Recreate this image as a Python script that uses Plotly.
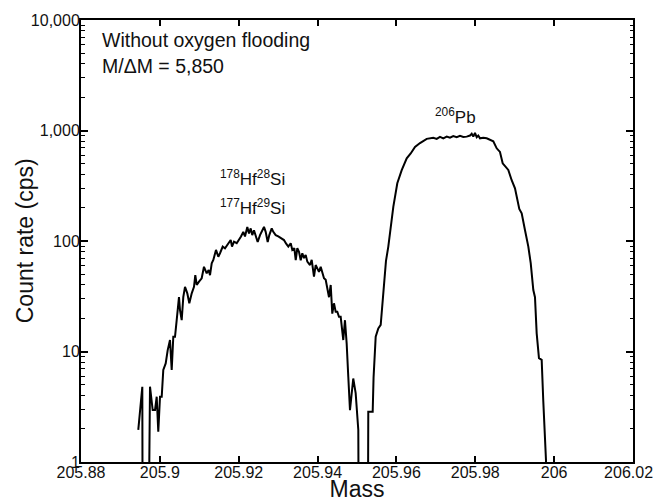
import plotly.graph_objects as go

# Mass scan (mass in u, count rate in cps; 0 = no counts recorded)
mass = [
    205.89453, 205.89555, 205.89572, 205.89681, 205.89750, 205.89818, 205.89877, 205.89920,
    205.89960, 205.90004, 205.90047, 205.90087, 205.90148, 205.90199, 205.90257, 205.90300,
    205.90341, 205.90384, 205.90427, 205.90485, 205.90511, 205.90554, 205.90594, 205.90638,
    205.90696, 205.90747, 205.90808, 205.90866, 205.90899, 205.90935, 205.90993, 205.91061,
    205.91119, 205.91188, 205.91239, 205.91272, 205.91315, 205.91356, 205.91424, 205.91483,
    205.91525, 205.91594, 205.91652, 205.91710, 205.91761, 205.91797, 205.91830, 205.91880,
    205.91949, 205.92007, 205.92058, 205.92116, 205.92159, 205.92218, 205.92261, 205.92304,
    205.92344, 205.92387, 205.92438, 205.92481, 205.92540, 205.92598, 205.92641, 205.92684,
    205.92735, 205.92776, 205.92837, 205.92877, 205.92938, 205.93004, 205.93090, 205.93148,
    205.93199, 205.93258, 205.93319, 205.93359, 205.93410, 205.93446, 205.93486, 205.93529,
    205.93572, 205.93613, 205.93656, 205.93699, 205.93740, 205.93808, 205.93851, 205.93909,
    205.93952, 205.93993, 205.94036, 205.94079, 205.94120, 205.94163, 205.94206, 205.94247,
    205.94290, 205.94333, 205.94373, 205.94416, 205.94459, 205.94500, 205.94543, 205.94586,
    205.94627, 205.94652, 205.94695, 205.94738, 205.94779, 205.94822, 205.94905, 205.94966,
    205.95033, 205.95058, 205.95266, 205.95286, 205.95398, 205.95420, 205.95474, 205.95540,
    205.95601, 205.95667, 205.95735, 205.95794, 205.95855, 205.95921, 205.96022, 205.96134,
    205.96261, 205.96362, 205.96471, 205.96598, 205.96768, 205.96935, 205.97021, 205.97105,
    205.97189, 205.97275, 205.97358, 205.97442, 205.97529, 205.97612, 205.97696, 205.97782,
    205.97866, 205.97909, 205.97950, 205.97992, 205.98036, 205.98076, 205.98119, 205.98203,
    205.98289, 205.98373, 205.98457, 205.98543, 205.98626, 205.98695, 205.98753, 205.98837,
    205.98923, 205.99007, 205.99116, 205.99177, 205.99261, 205.99345, 205.99406, 205.99472,
    205.99514, 205.99557, 205.99615, 205.99684, 205.99724, 205.99793, 205.99818,
]
count_rate = [
    1.95, 4.8, 0, 0, 4.8, 2.95, 2.95, 3.9,
    1.88, 3.9, 3.9, 6.8, 7.8, 10.3, 12.7, 6.8,
    13.6, 13.6, 19.2, 31, 23.7, 19.2, 31, 38.5,
    33.6, 27.3, 33.6, 38.5, 49, 40, 42.9, 46,
    58.4, 51, 54.6, 49, 62.9, 67.4, 83, 72,
    77.5, 89, 86, 92, 95.5, 102, 89, 98.5,
    95.5, 102, 110, 121, 110, 134, 117, 130,
    113, 125, 110, 98, 113, 125, 134, 121,
    98, 113, 130, 121, 113, 110, 106, 102,
    95, 89, 95.5, 83, 86, 67, 86, 80,
    67, 77.5, 70, 74.6, 65, 60.6, 67.4, 47.5,
    60.6, 56.4, 52.6, 58.4, 52.6, 46, 44.5, 37.2,
    31, 40, 22, 27.3, 22.9, 22.9, 20.6, 20.6,
    15.7, 12.7, 19.2, 11.8, 5.9, 2.95, 5.7, 4.2,
    1.95, 0, 0, 2.85, 2.85, 5.8, 13.6, 16.2,
    17.4, 34, 66, 89, 130, 204, 333, 438,
    560, 620, 710, 770, 840, 860, 840, 875,
    850, 880, 860, 890, 870, 895, 875, 880,
    900, 935, 880, 950, 870, 900, 850, 860,
    850, 820, 800, 690, 640, 505, 480, 440,
    355, 300, 195, 178, 125, 89, 63, 36,
    31, 14.6, 8.7, 8.4, 3.6, 1.04, 0,
]

x_tick_vals = [205.88, 205.90, 205.92, 205.94, 205.96, 205.98, 206.00, 206.02]
x_tick_text = ["205.88", "205.9", "205.92", "205.94", "205.96", "205.98", "206",
               "206.02\u00a0\u00a0"]
y_tick_vals = [1, 10, 100, 1000, 10000]
y_tick_text = ["1", "10", "100", "1,000", "10,000"]
y_minor_vals = [k * 10 ** d for d in range(4) for k in range(2, 10)]

FONT = "Liberation Sans, Arial, Helvetica, sans-serif"
INK = "#111111"

# zero counts cannot sit on a log axis: draw them below the axis floor (clipped)
plot_rate = [v if v > 0 else 0.01 for v in count_rate]

fig = go.Figure()
fig.add_trace(go.Scatter(
    x=mass, y=plot_rate, mode="lines",
    line=dict(color="black", width=2), hoverinfo="skip", showlegend=False,
))

fig.update_layout(
    width=657, height=502,
    margin=dict(l=81, r=24, t=20, b=40),
    paper_bgcolor="white", plot_bgcolor="white",
    font=dict(family=FONT, color=INK, size=16),
    showlegend=False,
    xaxis=dict(
        range=[205.88, 206.02], tickvals=x_tick_vals, ticktext=x_tick_text,
        ticks="inside", ticklen=6, tickwidth=1.5, tickcolor="black",
        showline=True, linecolor="black", linewidth=2, mirror="ticks",
        showgrid=False, zeroline=False, ticklabelstandoff=-5,
        ticklabeloverflow="allow",
        tickfont=dict(size=16, family=FONT, color=INK),
        title=dict(text="Mass", font=dict(size=23, family=FONT, color=INK), standoff=7),
        automargin=False,
    ),
    yaxis=dict(
        type="log", range=[0, 4], tickvals=y_tick_vals, ticktext=y_tick_text,
        ticks="inside", ticklen=7, tickwidth=1.5, tickcolor="black",
        minor=dict(tickvals=y_minor_vals, ticks="inside", ticklen=3.5, tickwidth=1,
                   tickcolor="black", showgrid=False),
        showline=True, linecolor="black", linewidth=2, mirror="ticks",
        showgrid=False, zeroline=False, ticklabelstandoff=-4,
        ticklabeloverflow="allow",
        tickfont=dict(size=16, family=FONT, color=INK),
        automargin=False,
    ),
)

# y-axis title
fig.add_annotation(text="Count rate (cps)", xref="paper", yref="paper", x=-0.101, y=0.5,
                   xanchor="center", yanchor="middle", textangle=-90, showarrow=False,
                   font=dict(size=23, family=FONT, color=INK))

annots = [
    dict(text="Without oxygen flooding", x=0.034, y=0.955),
    dict(text="M/ΔM = 5,850", x=0.034, y=0.896),
]
for a in annots:
    fig.add_annotation(xref="paper", yref="paper", xanchor="left", yanchor="middle",
                       showarrow=False, font=dict(size=19.5, family=FONT, color=INK), **a)

labels = [
    dict(text="<sup>178</sup>Hf<sup>28</sup>Si", x=0.311, y=0.643),
    dict(text="<sup>177</sup>Hf<sup>29</sup>Si", x=0.311, y=0.578),
    dict(text="<sup>206</sup>Pb", x=0.679, y=0.783),
]
for a in labels:
    fig.add_annotation(xref="paper", yref="paper", xanchor="center", yanchor="middle",
                       showarrow=False, font=dict(size=17, family=FONT, color=INK), **a)

# remove the browser's default 8 px body margin so the figure fills the window exactly
fig.write_html("out.html", config={"displayModeBar": False},
               post_script="document.body.style.margin='0';document.body.style.overflow='hidden';")
